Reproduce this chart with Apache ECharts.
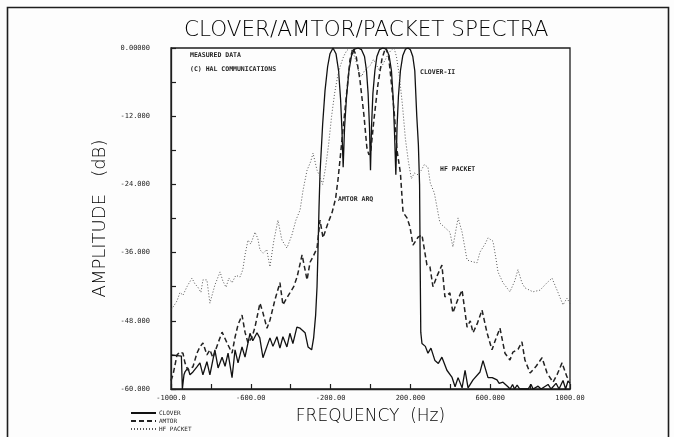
<!DOCTYPE html>
<html>
<head>
<meta charset="utf-8">
<script src="https://cdn.jsdelivr.net/npm/echarts@6/dist/echarts.min.js"></script>
<style>
html,body{margin:0;padding:0;background:#fdfdfd;}
#main{width:674px;height:437px;}
</style>
</head>
<body>
<div id="main"></div>
<script>
// ---- data (frequency in Hz, amplitude in dB) ----
var cloverFreq = [-1000,-948,-943,-935,-930,-915,-905,-890,-870,-855,-840,-820,-805,-780,-764,-744,-729,-714,-694,-679,-664,-644,-629,-604,-590,-569,-555,-539,-519,-504,-489,-469,-454,-439,-419,-404,-389,-369,-353,-328,-313,-295,-285,-275,-268,-262,-258,-253,-240,-228,-215,-203,-188,-173,-160,-150,-143,-137,
  -130,-120,-108,-95,-80,-62,-45,-30,-20,-12,-5,0,
  5,12,22,32,45,62,80,93,105,113,120,127,
  133,140,150,162,175,188,200,212,222,232,240,246,249,252,258,263,275,288,303,323,340,358,383,408,424,439,459,474,489,514,549,564,589,610,634,645,664,689,700,712,722,735,748,790,805,815,840,855,890,905,930,945,965,978,990,1000];
var cloverDb = [-54,-54.2,-60,-57.5,-57,-56.3,-57.5,-57,-56.1,-55.4,-57.5,-55.2,-57.5,-53.1,-56.3,-54.4,-56,-53.7,-58,-53.1,-55.4,-52.6,-54.4,-50.2,-51.5,-50.1,-51,-54.5,-52.5,-51,-52.5,-50.8,-52.8,-50.8,-52.6,-50.2,-52,-49.1,-49.3,-50.1,-52.6,-53.1,-51,-47,-42,-34,-28,-22,-13.5,-7.5,-3.3,-1,0,-1,-4,-9,-14.5,-21,
  -14,-8.5,-4,-1.3,-0.2,0,-0.3,-1.5,-4,-8,-14,-21.5,
  -14,-8,-4,-1.5,-0.3,0,-0.2,-1.3,-4,-8.5,-14.5,-22.3,
  -14,-8.5,-4,-1.3,-0.2,0,-0.3,-1.5,-4,-12,-17,-24,-38,-50,-52,-52,-52.5,-53.7,-52.8,-55,-55.5,-54.4,-56.7,-57.9,-59.6,-58,-59.8,-56.7,-59.8,-58.4,-57,-55,-58,-58,-58.4,-59,-58.8,-59.6,-60,-59.2,-60,-59.3,-60,-60,-59.2,-60,-59.5,-60,-59.2,-60,-59,-60,-58.5,-60,-58.6,-59];

var amtorFreq = [-1000,-990,-980,-970,-955,-940,-930,-915,-890,-870,-855,-840,-820,-805,-790,-764,-744,-719,-694,-679,-664,-644,-629,-614,-594,-579,-554,-539,-519,-504,-479,-454,-439,-420,-404,-385,-368,-343,-318,-303,-285,-268,-253,-238,-215,-193,-175,-163,-153,-138,-118,-103,-88,-73,-53,-33,-18,-8,2,17,37,58,75,90,103,118,133,150,163,183,198,213,238,258,283,298,313,335,358,373,398,413,435,459,484,500,514,535,559,584,609,630,649,674,699,714,740,759,774,800,830,860,885,915,935,960,985,1000];
var amtorDb = [-58.5,-57.5,-55.8,-54,-53.5,-53.7,-55.4,-56.7,-56.1,-53.7,-52.6,-51.9,-54,-53.1,-54.5,-51.9,-50,-51.9,-53.7,-50.9,-48.7,-47,-50,-51.9,-50.9,-49.1,-44.9,-46.6,-49.3,-47.9,-44.3,-41.3,-45.2,-44,-43.1,-42,-40.3,-36.4,-40.8,-37.7,-36.5,-35.2,-30.3,-33.4,-31,-29,-26.5,-23.2,-19.7,-14.4,-7.4,-2.1,0,-1.2,-5.6,-11.8,-17.6,-18.8,-18,-12.7,-6.5,-1.8,0,-1.2,-5.6,-10.9,-18,-22,-28.9,-29.9,-31.5,-34.7,-33.3,-32.9,-38.2,-38.5,-42,-40,-38.2,-43.8,-43.1,-46.6,-44.5,-42.6,-49.1,-48,-50.1,-48.5,-46.1,-50.1,-53.1,-51,-49.3,-53.7,-54.9,-53.5,-53,-51.7,-54.9,-57.2,-56,-54.5,-57.2,-58.8,-57.5,-55.4,-57.9,-58.4];

var packetFreq = [-1000,-990,-970,-955,-940,-920,-895,-880,-865,-850,-840,-820,-805,-780,-754,-740,-724,-710,-694,-675,-654,-640,-629,-614,-600,-579,-565,-554,-539,-520,-504,-485,-464,-444,-419,-394,-374,-353,-338,-318,-300,-288,-268,-253,-240,-225,-210,-195,-180,-165,-150,-135,-120,-105,-90,-75,-60,-45,-30,-15,0,15,30,45,60,75,90,105,118,130,145,160,175,190,205,220,238,255,270,288,300,320,348,373,398,413,439,459,484,509,534,549,574,589,614,630,639,664,699,724,739,759,774,814,850,885,910,935,965,985,1000];
var packetDb = [-46,-45.6,-44.5,-43,-43.5,-42,-40.5,-41.5,-42.1,-43,-40.8,-40.8,-44.9,-41.7,-39.4,-41,-42.1,-40.5,-41.3,-40,-40.3,-39,-36.4,-33.8,-34.5,-32.4,-33.5,-35.5,-36.1,-35.5,-38.5,-34,-30.3,-33.8,-35.2,-32.9,-30.3,-28.5,-25,-21.5,-20,-18.5,-21.5,-22.7,-24,-21,-17,-12,-8,-5,-3,-1.5,-0.5,0,-0.6,-2,-4,-5,-4,-3.5,-3,-2,-3,-4,-3,-2,-1,-0.3,0,-1.5,-5,-10,-16,-20,-23,-22,-22.3,-21.5,-20.5,-21,-23.8,-25.5,-30.8,-31.6,-32.4,-35,-29.9,-32.4,-37.3,-37.6,-37.8,-35.9,-34.5,-33.4,-34,-37.3,-39.4,-41.3,-42.9,-40.9,-39,-41.3,-42.2,-42.9,-42.6,-41.3,-40.5,-42.6,-45.2,-44,-45];

var seriesNames = ['CLOVER','AMTOR','HF PACKET'];
var xTickValues = [-1000,-600,-200,200,600,1000];
var xTickLabels = ['-1000.0','-600.00','-200.00','200.000','600.000','1000.00'];
var yTickValues = [0,-12,-24,-36,-48,-60];
var yTickLabels = ['0.00000','-12.000','-24.000','-36.000','-48.000','-60.000'];
var titleText = 'CLOVER/AMTOR/PACKET SPECTRA';
var xName = 'FREQUENCY  (Hz)';
var yName = 'AMPLITUDE   (dB)';
var notes = ['MEASURED DATA','(C) HAL COMMUNICATIONS','CLOVER-II','HF PACKET','AMTOR ARQ'];

function pairs(f, d){ return f.map(function(v,i){ return [v, d[i]]; }); }
function lookup(vals, labels){ return function(v){ var i = vals.indexOf(Math.round(v)); return i >= 0 ? labels[i] : ''; }; }

var ink = '#1e1e1e';
var mono = '"DejaVu Sans Mono", monospace';
var chart = echarts.init(document.getElementById('main'), null, {renderer:'canvas'});
var grid = {left:171, right:104, top:48, bottom:48};
chart.setOption({
  backgroundColor:'#fdfdfd',
  animation:false,
  grid: Object.assign({show:true, borderColor:ink, borderWidth:1.3, backgroundColor:'transparent'}, grid),
  xAxis:{
    type:'value', min:-1000, max:1000, interval:200,
    name:xName, nameLocation:'middle', nameGap:19,
    nameTextStyle:{fontFamily:'"DejaVu Sans"', fontWeight:200, fontSize:17, color:'#000'},
    axisLine:{show:true, onZero:false, lineStyle:{color:ink, width:1.3}},
    axisTick:{show:true, inside:true, length:5, lineStyle:{color:ink, width:1.2}},
    axisLabel:{formatter:lookup(xTickValues, xTickLabels), fontFamily:mono, fontSize:7, color:ink, margin:6, hideOverlap:false},
    splitLine:{show:false}
  },
  yAxis:{
    type:'value', min:-60, max:0, interval:6,
    name:yName, nameLocation:'middle', nameGap:38, nameRotate:90,
    nameTextStyle:{fontFamily:'"DejaVu Sans"', fontWeight:200, fontSize:18, color:'#000'},
    axisLine:{show:true, onZero:false, lineStyle:{color:ink, width:1.3}},
    axisTick:{show:true, inside:true, length:5, lineStyle:{color:ink, width:1.2}},
    axisLabel:{formatter:lookup(yTickValues, yTickLabels), fontFamily:mono, fontSize:7, color:ink, margin:21},
    splitLine:{show:false}
  },
  legend:{
    data:seriesNames, orient:'vertical', left:125, top:405, itemWidth:25, itemHeight:6, itemGap:2,
    itemStyle:{opacity:0},
    textStyle:{fontFamily:mono, fontSize:6, color:ink, padding:[0,0,0,-2]}
  },
  series:[
    {name:seriesNames[0], type:'line', data:pairs(cloverFreq, cloverDb), symbol:'none', clip:true,
     lineStyle:{color:'#111', width:1.3, type:'solid'}, itemStyle:{color:'#111'}},
    {name:seriesNames[1], type:'line', data:pairs(amtorFreq, amtorDb), symbol:'none', clip:true,
     lineStyle:{color:'#222', width:1.5, type:[5,3]}, itemStyle:{color:'#222'}},
    {name:seriesNames[2], type:'line', data:pairs(packetFreq, packetDb), symbol:'none', clip:true,
     lineStyle:{color:'#555', width:1, type:[1,2]}, itemStyle:{color:'#555'}}
  ],
  graphic:[
    {type:'rect', shape:{x:7.5, y:7.5, width:661, height:440}, style:{fill:'none', stroke:ink, lineWidth:1.6}, silent:true},
    {type:'text', left:184, top:19, style:{text:titleText, font:'200 21.5px "DejaVu Sans"', fill:'#000'}},
    {type:'text', left:190, top:52, style:{text:notes[0], font:'bold 6.5px ' + mono, fill:ink}},
    {type:'text', left:190, top:66, style:{text:notes[1], font:'bold 6.5px ' + mono, fill:ink}},
    {type:'text', left:420, top:69, style:{text:notes[2], font:'bold 6.5px ' + mono, fill:ink}},
    {type:'text', left:440, top:166, style:{text:notes[3], font:'bold 6.5px ' + mono, fill:ink}},
    {type:'text', left:338, top:196, style:{text:notes[4], font:'bold 6.5px ' + mono, fill:ink}}
  ]
});
</script>
</body>
</html>
